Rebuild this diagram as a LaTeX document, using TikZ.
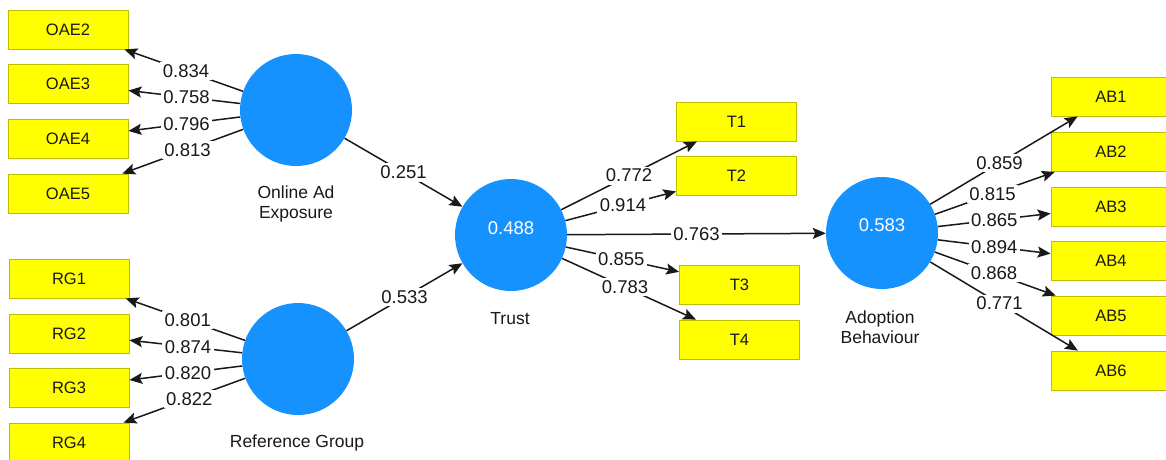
\documentclass[tikz,border=0pt]{standalone}
\usepackage{fontspec}
\setmainfont{Liberation Sans}
\usetikzlibrary{arrows.meta}
\definecolor{lvblue}{RGB}{22,146,255}
\definecolor{mvfill}{RGB}{255,255,0}
\definecolor{mvedge}{RGB}{190,190,0}
\definecolor{ink}{RGB}{25,25,25}

\begin{document}
\begin{tikzpicture}[x=1pt,y=-1pt,
  latent/.style={circle,fill=lvblue,minimum size=112pt,inner sep=0pt},
  indicator/.style={rectangle,fill=mvfill,draw=mvedge,line width=0.8pt,
    minimum width=120pt,minimum height=39pt,inner sep=0pt,
    font=\fontsize{16.5}{18}\selectfont,text=ink},
  cname/.style={font=\fontsize{17.5}{20}\selectfont,text=ink,align=center},
  rsq/.style={font=\fontsize{18.5}{20}\selectfont,text=white},
  link/.style={draw=ink,line width=1.5pt,
    -{Stealth[length=13pt,width=11pt,inset=2.5pt]}},
  wt/.style={fill=white,inner sep=2.5pt,
    font=\fontsize{18.5}{20}\selectfont,text=ink},
]
\clip (0,0) rectangle (1166,459);
\fill[white] (0,0) rectangle (1166,459);

% latent variables
\node[latent] (OAE) at (296,110) {};
\node[latent] (RG)  at (298,359) {};
\node[latent] (TR)  at (511,235) {};
\node[latent] (AB)  at (882,233) {};
\node[rsq] (TRv) at (511,228) {0.488};
\node[rsq] (ABv) at (882,225) {0.583};

\node[cname] (OAEn) at (296,204) {Online Ad\\Exposure};
\node[cname] (RGn)  at (297,443) {Reference Group};
\node[cname] (TRn)  at (510,319) {Trust};
\node[cname] (ABn)  at (880,327) {Adoption\\Behaviour};

% indicators
\node[indicator] (OAE2) at (68,29.5)  {OAE2};
\node[indicator] (OAE3) at (68,83.5)  {OAE3};
\node[indicator] (OAE4) at (68,138.5) {OAE4};
\node[indicator] (OAE5) at (68,193.5) {OAE5};

\node[indicator] (RG1) at (69,278.5) {RG1};
\node[indicator] (RG2) at (69,333.5) {RG2};
\node[indicator] (RG3) at (69,387.5) {RG3};
\node[indicator] (RG4) at (69,442.5) {RG4};

\node[indicator] (T1) at (736.5,121.5) {T1};
\node[indicator] (T2) at (736.5,175.5) {T2};
\node[indicator] (T3) at (739.5,285)   {T3};
\node[indicator] (T4) at (739.5,339.5) {T4};

\node[indicator] (AB1) at (1111,96.5)  {AB1};
\node[indicator] (AB2) at (1111,152)   {AB2};
\node[indicator] (AB3) at (1111,206.5) {AB3};
\node[indicator] (AB4) at (1111,261)   {AB4};
\node[indicator] (AB5) at (1111,315.5) {AB5};
\node[indicator] (AB6) at (1111,370.5) {AB6};

% outer loadings
\draw[link] (OAE) -- node[wt,pos=.48]{0.834} (OAE2);
\draw[link] (OAE) -- node[wt,pos=.48]{0.758} (OAE3);
\draw[link] (OAE) -- node[wt,pos=.48]{0.796} (OAE4);
\draw[link] (OAE) -- node[wt,pos=.46]{0.813} (OAE5);

\draw[link] (RG) -- node[wt,pos=.48]{0.801} (RG1);
\draw[link] (RG) -- node[wt,pos=.48]{0.874} (RG2);
\draw[link] (RG) -- node[wt,pos=.48]{0.820} (RG3);
\draw[link] (RG) -- node[wt,pos=.46]{0.822} (RG4);

\draw[link] (TR) -- node[wt,pos=.5]{0.772} (T1);
\draw[link] (TR) -- node[wt,pos=.52]{0.914} (T2);
\draw[link] (TR) -- node[wt,pos=.49]{0.855} (T3);
\draw[link] (TR) -- node[wt,pos=.47]{0.783} (T4);

\draw[link] (AB) -- node[wt,pos=.47]{0.859} (AB1);
\draw[link] (AB) -- node[wt,pos=.48]{0.815} (AB2);
\draw[link] (AB) -- node[wt,pos=.5]{0.865} (AB3);
\draw[link] (AB) -- node[wt,pos=.5]{0.894} (AB4);
\draw[link] (AB) -- node[wt,pos=.49]{0.868} (AB5);
\draw[link] (AB) -- node[wt,pos=.47]{0.771} (AB6);

% structural paths
\draw[link] (OAE) -- node[wt,pos=.5]{0.251} (TR);
\draw[link] (RG)  -- node[wt,pos=.5]{0.533} (TR);
\draw[link] (TR)  -- node[wt,pos=.5]{0.763} (AB);
\end{tikzpicture}
\end{document}
